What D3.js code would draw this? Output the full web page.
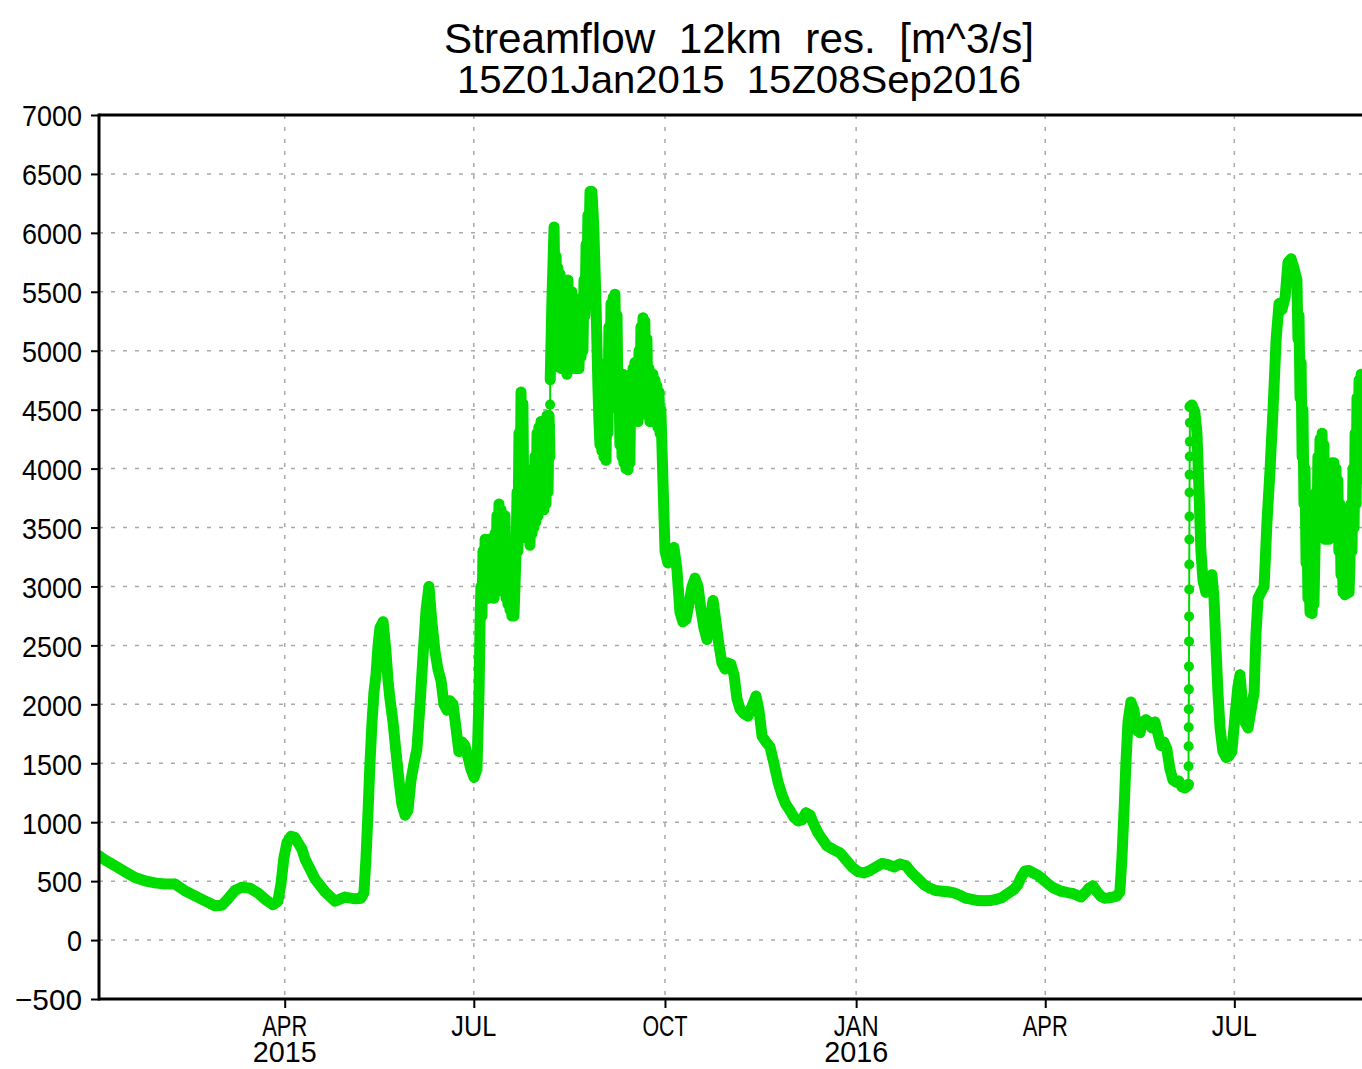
<!DOCTYPE html>
<html>
<head>
<meta charset="utf-8">
<script src="https://cdn.jsdelivr.net/npm/d3@7"></script>
<style>
  html, body { margin: 0; padding: 0; background: #ffffff; }
  svg { display: block; }
  text { font-family: "Liberation Sans", Arial, sans-serif; fill: #000; }
</style>
</head>
<body>
<svg id="chart" width="1362" height="1069"></svg>
<script>
// ---------------- DATA ----------------
const titleLines = ["Streamflow  12km  res.  [m^3/s]", "15Z01Jan2015  15Z08Sep2016"];
const yTickValues = [-500, 0, 500, 1000, 1500, 2000, 2500, 3000, 3500, 4000, 4500, 5000, 5500, 6000, 6500, 7000];
const xTickDates  = ["2015-04-01", "2015-07-01", "2015-10-01", "2016-01-01", "2016-04-01", "2016-07-01"];
const xTickMonths = ["APR", "JUL", "OCT", "JAN", "APR", "JUL"];
const xTickYears  = ["2015", "", "", "2016", "", ""];
const startTime = Date.UTC(2015, 0, 1, 15);   // 15Z01Jan2015
const endTime   = Date.UTC(2016, 8, 8, 15);   // 15Z08Sep2016

// [days since 15Z01Jan2015, streamflow m^3/s]
const flowWinter2015 = [
  [0,715],[2.9,680],[7.7,630],[12.5,580],[17.3,530],[22.1,503],[26.9,485],[31.8,475],
  [36.6,475],[41.4,418],[46.2,375],[51.0,333],[55.8,291],[59.2,296],[62.1,350],[65.4,420],
  [68.8,449],[72.7,440],[76.5,400],[80.4,340],[83.7,300],[86.1,330],[87.6,480],[89.0,700],
  [90.5,830],[92.4,880],[94.3,870],[97.7,770],[99.1,690],[103.9,520],[108.8,410],[113.6,330],
  [118.4,365],[123.2,350],[126.1,355],[127.5,400]
];
const flowSpring2015 = [
  [128.5,700],[129.5,1100],[130.4,1500],[131.4,1850],[132.3,2100],[133.3,2250],[134.3,2500],
  [135.2,2650],[136.7,2700],[138.1,2450],[139.1,2200],[140.0,2050],[141.5,1850],[142.9,1600],
  [144.4,1350],[145.8,1150],[147.3,1060],[148.7,1100],[150.1,1350],[151.6,1500],[153.0,1620],
  [154.5,2000],[155.9,2400],[157.4,2800],[158.8,3000],[160.2,2700],[161.7,2450],[163.1,2300],
  [164.6,2200],[166.0,2000],[167.5,1950],[168.9,2030],[170.4,2000],[171.8,1800],[173.2,1600],
  [174.7,1680],[176.1,1650],[177.6,1550],[179.0,1450],[180.5,1380],[181.9,1450]
];
const flowSummer2015 = [
  [182.9,2100],[183.4,2700],[183.8,3000],[184.3,2750],[184.8,3300],[185.3,2900],[185.8,3400],
  [186.3,2950],[186.7,3350],[187.2,2900],[187.7,3400],[188.2,2950],[188.6,3300],[189.1,2950],
  [189.6,3350],[190.1,2900],[190.6,3450],[191.0,3000],[191.5,3600],[192.0,3050],[192.5,3700],
  [193.0,3100],[193.5,3650],[193.9,3000],[194.4,3500],[194.9,2950],[195.4,3600],[195.9,2900],
  [196.3,3400],[196.8,2850],[197.3,3200],[197.8,2800],[198.3,3200],[198.7,2750],[199.2,3100],
  [199.7,2750],[200.2,3000],[200.7,3300],[201.2,3800],[201.6,3300],[202.1,4300],[202.6,3600],
  [203.1,4650],[203.5,3800],[204.0,4550],[204.5,3600],[205.0,4000],[205.5,3450],[206.0,3800],
  [206.4,3400],[206.9,3900],[207.4,3350],[207.9,3950],[208.4,3450],[208.9,4000],[209.3,3500],
  [209.8,4100],[210.3,3550],[210.8,4300],[211.3,3600],[211.7,4350],[212.2,3650],[212.7,4400],
  [213.2,3700],[213.7,4350],[214.1,3650],[214.6,4400],[215.1,3700],[215.6,4450],[216.1,3800],
  [216.6,4450],[217.0,4100],[217.05,4356],[217.1,4543],[217.15,4754],[218.0,5450],[219.0,6050],
  [219.5,5400],[220.0,5800],[220.4,5000],[220.9,5700],[221.4,4900],[221.9,5650],[222.3,4850],
  [222.8,5500],[223.3,4850],[223.8,5600],[224.3,4850],[224.7,5550],[225.2,4800],[225.7,5600],
  [226.2,4850],[226.6,5400],[227.1,4850],[227.6,5500],[228.1,4900],[228.6,5450],[229.1,4850],
  [229.5,5400],[230.0,4850],[230.5,5350],[231.0,4850],[231.5,5300],[232.0,4950],[232.4,5400],
  [232.9,5000],[233.4,5600],[233.9,5300],[234.4,5900],[234.8,5600],[235.3,6150],[235.8,5900],
  [236.3,6350],[236.8,6100],[237.2,6350],[237.7,6200],[238.2,6000],[238.7,5700],[239.2,5400],
  [239.7,5000],[240.1,4700],[240.6,4400],[241.1,4200],[241.6,4700],[242.0,4150],[242.5,4800],
  [243.0,4100],[243.5,4700],[244.0,4070],[244.5,4900],[244.9,4300],[245.4,5200],[245.9,4700],
  [246.4,5400],[246.9,4900],[247.4,5450],[247.8,5000],[248.3,5480],[248.8,4900],[249.3,5300],
  [249.8,4500],[250.2,4800],[250.7,4200],[251.2,4750],[251.7,4100],[252.2,4800],[252.6,4050],
  [253.1,4700],[253.6,4000],[254.1,4650],[254.6,3990],[255.0,4500],[255.5,4050],[256.0,4800],
  [256.5,4400],[257.0,4850],[257.4,4400],[257.9,4900],[258.4,4450],[258.9,4850],[259.4,4400],
  [259.9,5000],[260.3,4450],[260.8,5200],[261.3,4500],[261.8,5280],[262.3,4600],[262.7,5250],
  [263.2,4500],[263.7,5100],[264.2,4450],[264.7,4850],[265.1,4400],[265.6,4800],[266.1,4400],
  [266.6,4800],[267.1,4450],[267.6,4750],[268.0,4400],[268.5,4700],[269.0,4350],[269.5,4650],
  [270.0,4300],[270.4,4500]
];
const flowAutumn2015 = [
  [271.4,3900],[272.4,3300],[273.8,3200],[275.3,3250],[276.7,3330],[278.1,3150],[279.6,2780],
  [281.0,2700],[282.5,2720],[283.9,2850],[285.4,3000],[286.8,3070],[288.3,3000],[289.7,2800],
  [291.1,2650],[292.6,2550],[294.0,2700],[295.5,2880],[296.9,2700],[298.4,2500],[299.8,2350],
  [301.3,2300],[302.7,2350],[304.1,2340],[305.6,2250],[307.0,2050],[308.5,1960],[310.4,1920],
  [312.3,1900],[314.2,1980],[316.2,2070],[317.6,1950],[319.1,1730],[321.0,1680],[322.9,1640],
  [324.8,1500],[326.8,1340],[328.7,1230],[330.6,1150],[332.5,1100],[334.5,1040],[336.4,1010],
  [338.3,1020],[340.2,1080],[342.2,1060],[344.1,980],[346.0,910],[347.9,860],[350.3,800],
  [353.2,770],[356.6,740],[359.5,680],[362.4,620]
];
const flowWinter2016 = [
  [365.3,580],[368.1,570],[371.0,590],[373.9,620],[376.8,650],[379.7,640],[382.6,620],
  [385.5,645],[388.4,630],[391.2,570],[394.1,520],[397.0,470],[399.9,440],[402.8,420],
  [405.7,415],[408.6,410],[411.5,400],[414.3,380],[417.2,355],[420.1,345],[423.0,335],
  [425.9,333],[428.8,335],[431.7,345],[434.5,360],[437.4,395],[440.3,430],[442.2,470],
  [443.7,530],[445.6,585],[447.5,590],[449.5,570],[451.4,555],[453.3,530],[455.2,500],
  [457.2,470],[459.1,445],[461.0,430],[462.9,415],[464.9,408],[466.8,400],[468.7,395],
  [470.6,380],[472.6,365],[474.5,400],[476.4,440],[478.3,460],[480.3,410],[482.2,370],
  [484.1,355],[486.0,358],[488.0,365],[489.9,375],[491.3,410]
];
const flowSpring2016 = [
  [492.3,700],[493.3,1100],[494.2,1500],[495.2,1850],[496.6,2020],[498.1,1950],[499.5,1780],
  [501.0,1760],[502.4,1850],[503.8,1870],[505.3,1850],[506.7,1800],[508.2,1850],[509.6,1750],
  [511.1,1650],[512.5,1680],[513.9,1620],[515.4,1450],[516.8,1360],[518.3,1340],[519.7,1350],
  [521.2,1300],[522.6,1290],[524.0,1310],
  [524.30,1322],[524.34,1475],[524.38,1644],[524.42,1805],[524.46,1958],[524.50,2127],
  [524.54,2322],[524.58,2534],[524.62,2746],[524.66,2975],[524.70,3186],[524.74,3398],
  [524.78,3593],[524.82,3797],[524.86,3949],[524.90,4102],[524.94,4229],[524.98,4390],
  [525.02,4525]
];
const flowSummer2016 = [
  [526.0,4540],[527.4,4480],[528.4,4300],[529.4,3800],[530.3,3300],[531.3,3050],[532.7,2950],
  [534.2,3050],[535.6,3100],[536.6,2900],[537.5,2500],[538.5,2100],[539.5,1800],[540.9,1600],
  [542.4,1550],[543.8,1560],[545.2,1600],[546.7,1900],[548.1,2150],[549.1,2250],[550.1,2050],
  [551.5,1850],[553.0,1800],[554.4,1950],[555.9,2100],[556.8,2600],[557.8,2900],[559.2,2950],
  [560.7,3000],[562.1,3550],[563.6,4000],[565.0,4500],[566.5,5100],[567.9,5400],[569.3,5350],
  [570.8,5450],[572.2,5750],[573.7,5780],[575.1,5700],[576.5,5600],[577.0,5100],[577.5,5300],
  [578.0,4600],[578.5,4900],[579.0,4100],[579.4,4500],[579.9,3700],[580.4,4000],[580.9,3200],
  [581.4,3500],[581.8,2900],[582.3,3100],[582.8,2780],[583.3,2900],[583.8,2770],[584.2,3000],
  [584.7,2850],[585.2,3300],[585.7,3800],[586.2,3500],[586.6,4100],[587.1,3600],[587.6,4250],
  [588.1,3500],[588.6,4300],[589.1,3450],[589.5,4200],[590.0,3400],[590.5,3900],[591.0,3400],
  [591.4,3950],[591.9,3400],[592.4,4000],[592.9,3450],[593.4,4050],[593.9,3500],[594.3,4050],
  [594.8,3600],[595.3,4000],[595.8,3500],[596.2,3900],[596.7,3300],[597.2,3700],[597.7,3100],
  [598.2,3400],[598.7,2950],[599.1,3200],[599.6,2930],[600.1,3100],[600.6,2940],[601.1,3000],
  [601.6,2950],[602.0,3200],[602.5,3700],[603.0,3300],[603.5,4000],[604.0,3500],[604.5,4300],
  [605.0,3700],[605.4,4600],[605.9,3900],[606.4,4750],[606.9,4200],[607.4,4800],[608.8,4800]
];

// ---------------- CHART ----------------
const svg = d3.select("#chart");
const plot = { left: 99, top: 115, right: 1379, bottom: 999 };
const green = "#00dc00";
const gridColor = "#a9a9a9";

const x = d3.scaleUtc().domain([new Date(startTime), new Date(endTime)]).range([plot.left, plot.right]);
const y = d3.scaleLinear().domain([-500, 7000]).range([plot.bottom, plot.top]);

svg.append("rect").attr("width", 1362).attr("height", 1069).attr("fill", "#fff");

// title
const titleSizes = [42, 39], titleBase = [53, 93], titleWidths = [590, 564];
titleLines.forEach((t, i) => {
  svg.append("text")
    .attr("x", (plot.left + plot.right) / 2)
    .attr("y", titleBase[i])
    .attr("text-anchor", "middle")
    .attr("font-size", titleSizes[i])
    .attr("textLength", titleWidths[i])
    .attr("lengthAdjust", "spacingAndGlyphs")
    .style("white-space", "pre")
    .text(t);
});

// grid
const grid = svg.append("g");
grid.selectAll("line.h").data(yTickValues.filter(v => v > -500 && v < 7000)).join("line")
  .attr("x1", plot.left).attr("x2", plot.right)
  .attr("y1", d => y(d)).attr("y2", d => y(d))
  .attr("stroke", gridColor).attr("stroke-width", 1.5).attr("stroke-dasharray", "4,8");
grid.selectAll("line.v").data(xTickDates).join("line")
  .attr("x1", d => x(new Date(d + "T00:00:00Z"))).attr("x2", d => x(new Date(d + "T00:00:00Z")))
  .attr("y1", plot.top).attr("y2", plot.bottom)
  .attr("stroke", gridColor).attr("stroke-width", 1.5).attr("stroke-dasharray", "4,8");

// data
const series = [].concat(flowWinter2015, flowSpring2015, flowSummer2015, flowAutumn2015,
                         flowWinter2016, flowSpring2016, flowSummer2016);
const toDate = d => new Date(startTime + d * 86400000);
const pts = series.map(([d, v]) => ({ d, px: x(toDate(d)), py: y(v) }));

svg.append("clipPath").attr("id", "plotclip").append("rect")
  .attr("x", plot.left).attr("y", plot.top)
  .attr("width", plot.right - plot.left).attr("height", plot.bottom - plot.top);
const dataG = svg.append("g").attr("clip-path", "url(#plotclip)");

// dense sampling -> thick band of overlapping markers; fast rises -> thin line with visible dots
const thick = d3.path();
for (let i = 1; i < pts.length; i++) {
  if (pts[i].d - pts[i - 1].d >= 0.2) {
    thick.moveTo(pts[i - 1].px, pts[i - 1].py);
    thick.lineTo(pts[i].px, pts[i].py);
  }
}
dataG.append("path").attr("d", thick.toString())
  .attr("fill", "none").attr("stroke", green).attr("stroke-width", 11)
  .attr("stroke-linecap", "round").attr("stroke-linejoin", "round");
dataG.append("path")
  .attr("d", d3.line().x(p => p.px).y(p => p.py)(pts))
  .attr("fill", "none").attr("stroke", green).attr("stroke-width", 2);
dataG.selectAll("circle").data(pts).join("circle")
  .attr("cx", p => p.px).attr("cy", p => p.py).attr("r", 5).attr("fill", green);

// frame
const frame = svg.append("g").attr("stroke", "#000").attr("stroke-width", 3);
frame.append("line").attr("x1", plot.left).attr("x2", plot.left).attr("y1", plot.top - 1.5).attr("y2", plot.bottom + 1.5);
frame.append("line").attr("x1", plot.left).attr("x2", plot.right).attr("y1", plot.top).attr("y2", plot.top);
frame.append("line").attr("x1", plot.left).attr("x2", plot.right).attr("y1", plot.bottom).attr("y2", plot.bottom);
frame.append("line").attr("x1", plot.right).attr("x2", plot.right).attr("y1", plot.top).attr("y2", plot.bottom);

// y axis
const yAxisG = svg.append("g").attr("transform", `translate(${plot.left},0)`)
  .call(d3.axisLeft(y).tickValues(yTickValues).tickSize(8).tickPadding(9).tickFormat(d3.format("d")));
yAxisG.select(".domain").remove();
yAxisG.selectAll(".tick line").attr("stroke", "#000").attr("stroke-width", 2);
yAxisG.selectAll(".tick text")
  .attr("font-family", "Liberation Sans, Arial, sans-serif")
  .attr("font-size", 30).attr("fill", "#000").attr("dy", "0.36em")
  .attr("textLength", d => (d < 0 ? 22 : 0) + String(Math.abs(d)).length * 15)
  .attr("lengthAdjust", "spacingAndGlyphs");

// x axis
const xAxisG = svg.append("g").attr("transform", `translate(0,${plot.bottom})`)
  .call(d3.axisBottom(x).tickValues(xTickDates.map(d => new Date(d + "T00:00:00Z"))).tickSize(9).tickFormat(""));
xAxisG.select(".domain").remove();
xAxisG.selectAll(".tick line").attr("stroke", "#000").attr("stroke-width", 2);
const xl = svg.append("g");
xTickDates.forEach((d, i) => {
  const px = x(new Date(d + "T00:00:00Z"));
  const t = xl.append("text").attr("x", px).attr("y", 1036).attr("text-anchor", "middle")
    .attr("font-size", 29);
  t.append("tspan").attr("x", px).attr("y", 1036)
    .attr("textLength", xTickMonths[i].length * 15).attr("lengthAdjust", "spacingAndGlyphs")
    .text(xTickMonths[i]);
  if (xTickYears[i]) {
    t.append("tspan").attr("x", px).attr("y", 1062)
      .attr("textLength", xTickYears[i].length * 16).attr("lengthAdjust", "spacingAndGlyphs")
      .text(xTickYears[i]);
  }
});
</script>
</body>
</html>
